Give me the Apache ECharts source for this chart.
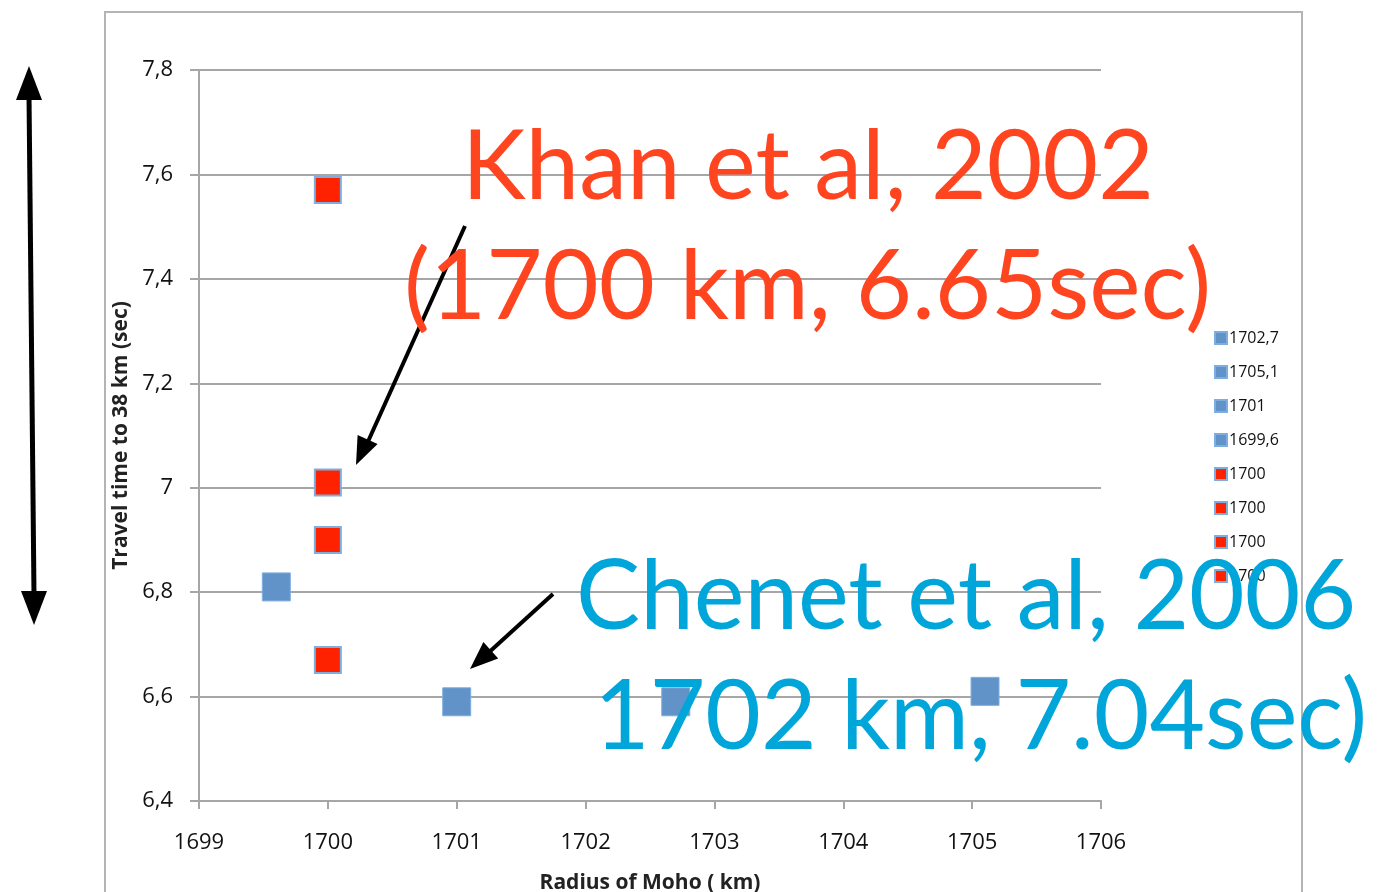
<!DOCTYPE html>
<html>
<head>
    <meta charset="utf-8">
    <script type="text/javascript" src="https://cdn.jsdelivr.net/npm/echarts@6/dist/echarts.min.js"></script>
    <style type="text/css">
        *{
            margin: 0;
            padding: 0;
        }
        #main{
            width: 1389px;
            height: 892px;
            background: #ffffff;
        }
    </style>
</head>
<body>
    <div id="main"></div>
    <script type="text/javascript">
        // one series per point, as in the original spreadsheet
        var seriesNames = ['1702,7', '1705,1', '1701', '1699,6', '1700', '1700', '1700', '1700'];
        var radius = [1702.7, 1705.1, 1701, 1699.6, 1700, 1700, 1700, 1700];
        var travelTime = [6.59, 6.61, 6.59, 6.81, 6.67, 6.90, 7.01, 7.57];
        var isKhan = [false, false, false, false, true, true, true, true];

        var xTicks = [1699, 1706, 1];
        var yTicks = [6.4, 7.8, 0.2];

        var blue = '#6193c8';
        var red = '#ff2200';
        var gridColor = '#a6a6a6';
        var labelFont = 'Open Sans';
        var bigFont = 'Lato';

        var series = [];
        for (var i = 0; i < seriesNames.length; i++) {
            series.push({
                name: seriesNames[i] + '#' + i,
                type: 'scatter',
                symbol: 'rect',
                symbolSize: isKhan[i] ? 26 : 28,
                data: [[radius[i], travelTime[i]]],
                itemStyle: isKhan[i]
                    ? {color: red, borderColor: '#7eaedf', borderWidth: 2, opacity: 1}
                    : {color: blue, borderColor: '#7eaedf', borderWidth: 1, opacity: 1},
                emphasis: {disabled: true},
                z: 3
            });
        }

        var myChart = echarts.init(document.getElementById('main'));
        var option = {
            backgroundColor: '#ffffff',
            animation: false,
            grid: {
                left: 199,
                right: 288,
                top: 70,
                bottom: 91,
                outerBoundsMode: 'none'
            },
            legend: {
                orient: 'vertical',
                left: 1209,
                top: 325,
                itemWidth: 12,
                itemHeight: 12,
                itemGap: 18,
                icon: 'rect',
                textStyle: {fontFamily: labelFont, fontSize: 16, color: '#111', padding: [0, 0, 0, -3]},
                formatter: function (name) { return name.split('#')[0]; },
                selectedMode: false
            },
            xAxis: {
                type: 'value',
                min: xTicks[0],
                max: xTicks[1],
                interval: xTicks[2],
                name: 'Radius of Moho ( km)',
                nameLocation: 'middle',
                nameGap: 72,
                nameTextStyle: {fontFamily: labelFont, fontSize: 21, fontWeight: 'bold', color: '#222'},
                axisLine: {lineStyle: {color: gridColor, width: 2}},
                axisTick: {show: true, length: 8, lineStyle: {color: gridColor, width: 2}},
                axisLabel: {
                    fontFamily: labelFont, fontSize: 22, color: '#111', margin: 31,
                    formatter: function (v) { return String(v); }
                },
                splitLine: {show: false}
            },
            yAxis: {
                type: 'value',
                min: yTicks[0],
                max: yTicks[1],
                interval: yTicks[2],
                name: 'Travel time to 38 km (sec)',
                nameLocation: 'middle',
                nameGap: 63,
                nameTextStyle: {fontFamily: labelFont, fontSize: 21, fontWeight: 'bold', color: '#222'},
                axisLine: {show: true, lineStyle: {color: gridColor, width: 2}},
                axisTick: {show: true, length: 9, lineStyle: {color: gridColor, width: 2}},
                axisLabel: {
                    fontFamily: labelFont, fontSize: 22, color: '#111', margin: 26,
                    formatter: function (v) { return String(Math.round(v * 10) / 10).replace('.', ','); }
                },
                splitLine: {show: true, lineStyle: {color: gridColor, width: 2}}
            },
            graphic: [
                // slide frame
                {type: 'rect', shape: {x: 105, y: 12, width: 1197, height: 900},
                 style: {fill: null, stroke: '#b4b4b4', lineWidth: 2}, z: 1},
                // double arrow on the left
                {type: 'line', shape: {x1: 29, y1: 95, x2: 34, y2: 596},
                 style: {stroke: '#000', lineWidth: 5}, z: 10},
                {type: 'polygon', shape: {points: [[29, 66], [16, 100], [42, 100]]},
                 style: {fill: '#000'}, z: 10},
                {type: 'polygon', shape: {points: [[34, 625], [21, 591], [47, 591]]},
                 style: {fill: '#000'}, z: 10},
                // arrow to Khan point
                {type: 'line', shape: {x1: 465, y1: 226, x2: 366, y2: 446},
                 style: {stroke: '#000', lineWidth: 4}, z: 10},
                {type: 'polygon', shape: {points: [[356, 465], [377.6, 444.1], [357.6, 434.9]]},
                 style: {fill: '#000'}, z: 10},
                // arrow to Chenet point
                {type: 'line', shape: {x1: 553, y1: 594, x2: 486, y2: 655},
                 style: {stroke: '#000', lineWidth: 4}, z: 10},
                {type: 'polygon', shape: {points: [[470, 669], [498.2, 658.4], [483.4, 642.0]]},
                 style: {fill: '#000'}, z: 10},
                // annotations
                {type: 'text', x: 462, y: 168, z: 20,
                 style: {text: 'Khan et al, 2002', fill: '#ff4520', font: '96px ' + bigFont,
                         verticalAlign: 'middle'}},
                {type: 'text', x: 404, y: 288, z: 20,
                 style: {text: '(1700 km, 6.65sec)', fill: '#ff4520', font: '97px ' + bigFont,
                         verticalAlign: 'middle'}},
                {type: 'text', x: 576, y: 598, z: 20,
                 style: {text: 'Chenet et al, 2006', fill: '#00a6d9', font: '96px ' + bigFont,
                         verticalAlign: 'middle'}},
                {type: 'text', x: 594, y: 718, z: 20,
                 style: {text: '1702 km, 7.04sec)', fill: '#00a6d9', font: '96px ' + bigFont,
                         verticalAlign: 'middle'}}
            ],
            series: series
        };
        myChart.setOption(option);
    </script>
</body>
</html>
